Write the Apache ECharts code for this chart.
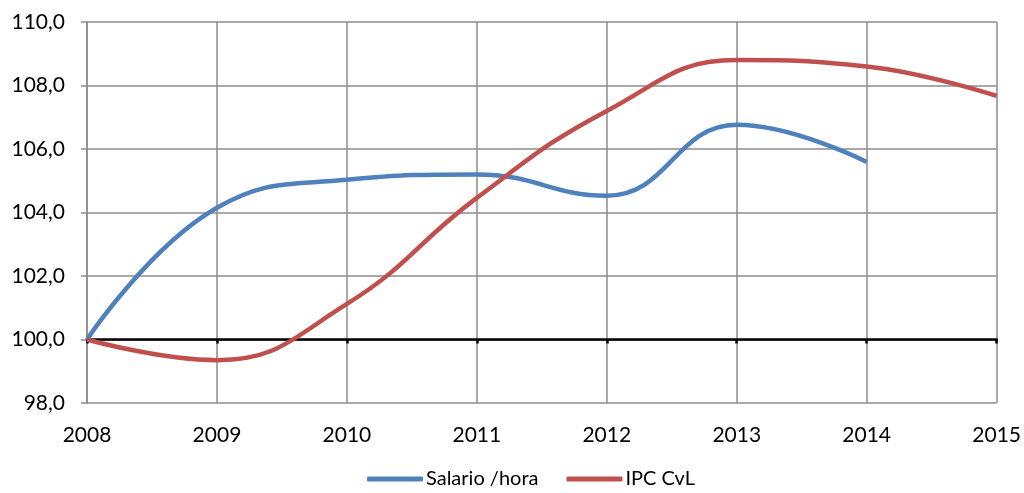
<!DOCTYPE html>
<html><head><meta charset="utf-8">
<script src="https://cdn.jsdelivr.net/npm/echarts@6/dist/echarts.min.js"></script>
<style>html,body{margin:0;padding:0;background:#fff}#c{width:1024px;height:493px}</style>
</head><body><div id="c"></div>
<script>
var years = [2008, 2009, 2010, 2011, 2012, 2013, 2014, 2015];
var salario = [100.0, 104.15, 105.03, 105.2, 104.53, 106.76, 105.59];
var ipc = [100.0, 99.35, 101.12, 104.46, 107.2, 108.8, 108.6, 107.67];
var seriesNames = ['Salario /hora', 'IPC CvL'];
var baseLine = 100;

function pairs(vals){ return vals.map(function(v,i){ return [years[i], v]; }); }
var font = 'Lato, "Open Sans", sans-serif';
var gridTop = 22, gridBottom = 90, H = 493;
var yMin = 98, yMax = 110;
var plotH = H - gridTop - gridBottom;
var baseOffset = -(baseLine - yMin) / (yMax - yMin) * plotH;
var chart = echarts.init(document.getElementById('c'));
chart.setOption({
  animation:false,
  textStyle:{fontFamily:font},
  grid:{left:87,right:27,top:gridTop,bottom:gridBottom,containLabel:false},
  legend:{bottom:-1,left:362,itemGap:28,itemWidth:56,itemHeight:5,icon:'roundRect',
    textStyle:{fontSize:20,color:'#000',fontFamily:font,padding:[0,0,0,-2]},data:seriesNames},
  xAxis:[{type:'value',min:2008,max:2015,interval:1,
    axisLine:{show:false},axisTick:{show:false},
    axisLabel:{fontSize:21,color:'#000',margin:22,formatter:function(v){return String(v);}},
    splitLine:{show:true,lineStyle:{color:'#8c8c8c',width:1.5}}},
   {type:'value',min:2008,max:2015,interval:1,position:'bottom',offset:baseOffset,
    axisLine:{show:true,lineStyle:{color:'#000',width:2.5}},
    axisTick:{show:true,inside:false,length:4,lineStyle:{color:'#000',width:2.5}},
    axisLabel:{show:false},splitLine:{show:false}}],
  yAxis:{type:'value',min:yMin,max:yMax,interval:2,
    axisLine:{show:true,lineStyle:{color:'#8c8c8c',width:1.5}},
    axisTick:{show:true,length:6,lineStyle:{color:'#8c8c8c',width:1.5}},
    axisLabel:{fontSize:21,color:'#000',margin:22,formatter:function(v){return v.toFixed(1).replace('.',',');}},
    splitLine:{show:true,lineStyle:{color:'#8c8c8c',width:1.5}}},
  series:[
    {name:seriesNames[0],type:'line',data:pairs(salario),smooth:0.45,showSymbol:false,
     lineStyle:{color:'#4F81BD',width:4.5},itemStyle:{color:'#4F81BD'},z:3},
    {name:seriesNames[1],type:'line',data:pairs(ipc),smooth:0.45,showSymbol:false,
     lineStyle:{color:'#C0504D',width:4.5},itemStyle:{color:'#C0504D'},z:4}
  ]
});
</script></body></html>
